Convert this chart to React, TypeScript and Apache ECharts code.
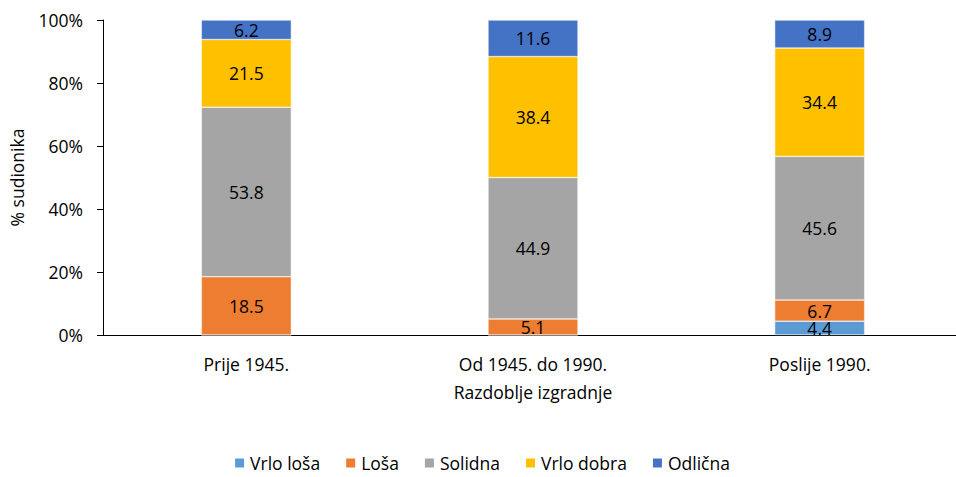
import React, { useEffect, useRef } from "react";
import * as echarts from "echarts";

const categories = ["Prije 1945.", "Od 1945. do 1990.", "Poslije 1990."];
const seriesNames = ["Vrlo loša", "Loša", "Solidna", "Vrlo dobra", "Odlična"];
const vrloLosa = [0, 0, 4.4];
const losa = [18.5, 5.1, 6.7];
const solidna = [53.8, 44.9, 45.6];
const vrloDobra = [21.5, 38.4, 34.4];
const odlicna = [6.2, 11.6, 8.9];
const yTicks = [0, 20, 40, 60, 80, 100];

const colors = ["#5B9BD5", "#ED7D31", "#A5A5A5", "#FFC000", "#4472C4"];
const FONT = "'Open Sans', Lato, sans-serif";
const FS = 17.5;

export default function App() {
  const ref = useRef<HTMLDivElement>(null);
  useEffect(() => {
    if (!ref.current) return;
    const chart = echarts.init(ref.current, null, { renderer: "svg" });
    const data = [vrloLosa, losa, solidna, vrloDobra, odlicna];
    chart.setOption({
      animation: false,
      textStyle: { fontFamily: FONT },
      grid: { left: 103, right: 0, top: 20, bottom: 142, containLabel: false },
      legend: {
        top: 454,
        left: "center",
        padding: 0,
        itemWidth: 11,
        itemHeight: 11,
        itemGap: 24,
        icon: "rect",
        textStyle: { fontSize: FS, color: "#000", fontFamily: FONT },
        data: seriesNames,
      },
      xAxis: {
        type: "category",
        data: categories,
        name: "Razdoblje izgradnje",
        nameLocation: "middle",
        nameGap: 48,
        nameTextStyle: { fontSize: FS, color: "#000", fontFamily: FONT },
        axisLine: { lineStyle: { color: "#000", width: 1 } },
        axisTick: { alignWithLabel: true, length: 5, lineStyle: { color: "#000" } },
        axisLabel: { fontSize: FS, color: "#000", margin: 20, fontFamily: FONT },
      },
      yAxis: {
        type: "value",
        min: yTicks[0],
        max: yTicks[yTicks.length - 1],
        interval: 20,
        name: "% sudionika",
        nameLocation: "middle",
        nameGap: 77,
        nameTextStyle: { fontSize: FS, color: "#000", fontFamily: FONT },
        axisLine: { show: true, lineStyle: { color: "#000", width: 1 } },
        axisTick: { show: true, length: 6, lineStyle: { color: "#000" } },
        splitLine: { show: false },
        axisLabel: {
          fontSize: FS,
          color: "#000",
          margin: 20,
          fontFamily: FONT,
          formatter: (v: number) => v + "%",
        },
      },
      series: seriesNames.map((name, i) => ({
        name,
        type: "bar",
        stack: "total",
        barWidth: 90,
        itemStyle: { color: colors[i], borderColor: "#fff", borderWidth: 0.5 },
        label: {
          show: true,
          position: "inside",
          color: "#000",
          fontSize: FS,
          fontFamily: FONT,
          formatter: (p: any) => (p.value > 0 ? String(p.value) : ""),
        },
        data: data[i],
      })),
    });
    return () => chart.dispose();
  }, []);
  return (
    <div
      style={{
        position: "absolute",
        left: 0,
        top: 0,
        width: 956,
        height: 477,
        overflow: "hidden",
      }}
    >
      <div ref={ref} style={{ width: 963, height: 477 }} />
    </div>
  );
}
